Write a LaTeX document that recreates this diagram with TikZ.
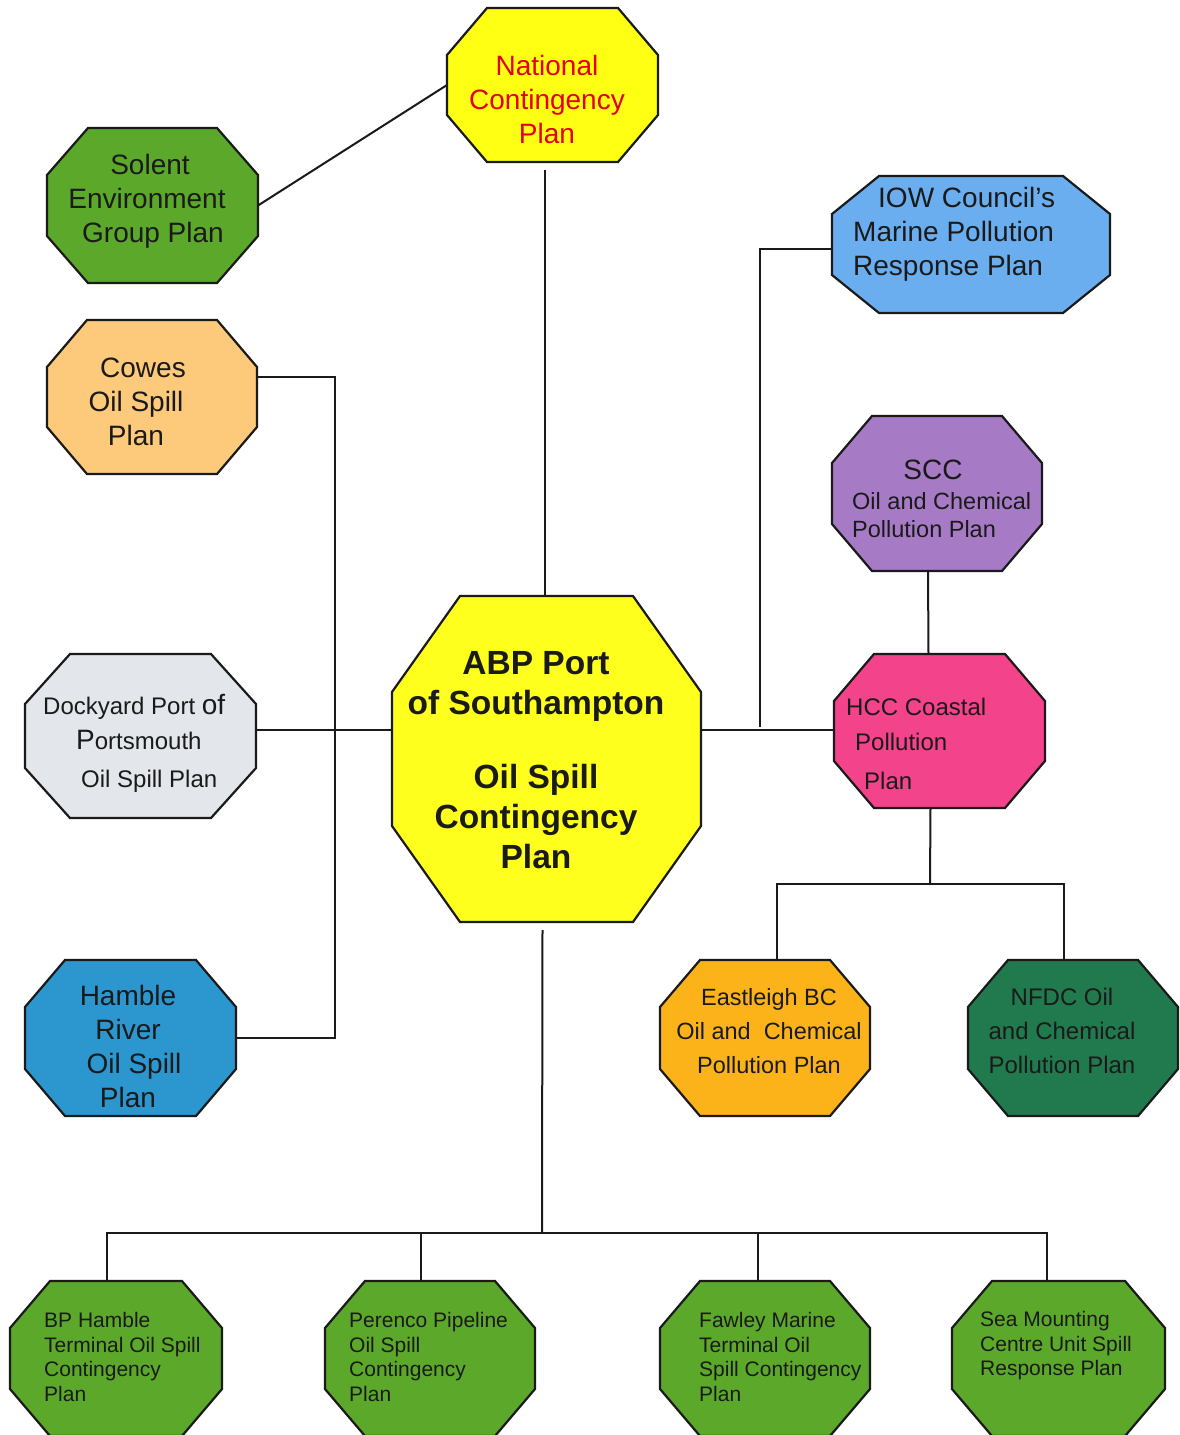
\documentclass[tikz,border=0pt]{standalone}
\usepackage{fontspec}
\setmainfont{Liberation Sans}
\usetikzlibrary{calc}
\pgfdeclarelayer{conn}
\pgfdeclarelayer{shapes}
\pgfsetlayers{conn,shapes,main}
\definecolor{natyel}{HTML}{FFFF14}
\definecolor{abpyel}{HTML}{FFFF1E}
\definecolor{natred}{HTML}{E2001A}
\definecolor{grn}{HTML}{5CA82A}
\definecolor{iowblue}{HTML}{6AAEF0}
\definecolor{cowesor}{HTML}{FDC97B}
\definecolor{sccpur}{HTML}{A77AC6}
\definecolor{dockgr}{HTML}{E3E6EA}
\definecolor{hccpink}{HTML}{F3438B}
\definecolor{hambleb}{HTML}{2C96CF}
\definecolor{eastor}{HTML}{FCB31A}
\definecolor{nfdcg}{HTML}{217A4E}
\definecolor{ink}{HTML}{1A1A1A}
\tikzset{
  frame/.style={rectangle, inner sep=0pt, outer sep=0pt},
  octline/.style={draw=ink, line width=2.2pt, line join=miter},
  conline/.style={draw=ink, line width=2pt},
  txt/.style={inner sep=0pt, text=ink},
  fA/.style={font=\fontsize{28}{34}\selectfont},
  fB/.style={font=\fontsize{24}{34}\selectfont},
  fC/.style={font=\fontsize{21}{24.5}\selectfont},
  fD/.style={font=\bfseries\fontsize{33.5}{40}\selectfont},
}
% #1 name, #2 colour, #3 x1, #4 y1, #5 x2, #6 y2, #7 cut x, #8 cut y
\newcommand\octo[8]{%
  \pgfmathsetmacro\ow{#5-#3}%
  \pgfmathsetmacro\oh{#6-#4}%
  \node[frame, minimum width=\ow pt, minimum height=\oh pt] (#1) at ({(#3+#5)/2},{(#4+#6)/2}) {};
  \begin{pgfonlayer}{shapes}
    \path[octline, fill=#2] ({#3+#7},#4) -- ({#5-#7},#4) -- (#5,{#4+#8}) -- (#5,{#6-#8})
      -- ({#5-#7},#6) -- ({#3+#7},#6) -- (#3,{#6-#8}) -- (#3,{#4+#8}) -- cycle;
  \end{pgfonlayer}
}
\begin{document}
\begin{tikzpicture}[x=1pt, y=-1pt]
\useasboundingbox (0,0) rectangle (1180,1435);
\begin{pgfonlayer}{conn}
  \fill[white] (0,0) rectangle (1180,1435);
\end{pgfonlayer}

% octagons
\octo{national}{natyel}{447}{8}{658}{162}{40}{47}
\octo{solent}{grn}{47}{128}{258}{283}{41}{47}
\octo{iow}{iowblue}{832}{176}{1110}{313}{47}{38}
\octo{cowes}{cowesor}{47}{320}{257}{474}{40}{47}
\octo{scc}{sccpur}{832}{416}{1042}{571}{40}{47}
\octo{dock}{dockgr}{25}{654}{256}{818}{45}{50}
\octo{abp}{abpyel}{392}{596}{701}{922}{68}{96}
\octo{hcc}{hccpink}{834}{654}{1045}{808}{40}{47}
\octo{hamble}{hambleb}{25}{960}{236}{1116}{40}{47}
\octo{east}{eastor}{660}{960}{870}{1116}{40}{47}
\octo{nfdc}{nfdcg}{968}{960}{1178}{1116}{40}{47}
\octo{bp}{grn}{10}{1281}{222}{1436}{40}{47}
\octo{perenco}{grn}{325}{1281}{535}{1436}{40}{47}
\octo{fawley}{grn}{660}{1281}{870}{1436}{40}{47}
\octo{sea}{grn}{952}{1281}{1165}{1436}{40}{47}

% bus coordinates
\coordinate (iowbus) at (760,730);
\coordinate (cowesbus) at (335,377);
\coordinate (hbus) at (930,884);
\coordinate (abpbus) at (542,1233);

% connectors
\begin{pgfonlayer}{conn}
  \draw[conline] ($(abp.north)+(-2,0)$) -- ($(abp.north |- national.south)+(-2,8)$);
  \draw[conline] (solent.east) -- (national.west);
  \draw[conline] ($(cowes.east)+(0,-20)$) -- (cowesbus) |- (hamble.east);
  \draw[conline] ($(dock.east)+(0,-6)$) -- ($(abp.west)+(0,-29)$);
  \draw[conline] ($(abp.east)+(0,-29)$) -- ($(hcc.west)+(0,-1)$);
  \draw[conline] ($(iow.west)+(0,4)$) -| ($(iowbus)+(0,-3)$);
  \draw[conline] ($(scc.south)+(-9,0)$) -- ($(hcc.north)+(-11,0)$);
  \draw[conline] ($(hcc.south)+(-9,0)$) -- (hbus);
  \draw[conline] ($(east.north)+(12,0)$) |- (hbus);
  \draw[conline] ($(nfdc.north)+(-9,0)$) |- (hbus);
  \draw[conline] ($(abp.south)+(-4,8)$) -- (abpbus);
  \draw[conline] ($(bp.north)+(-9,0)$) |- (abpbus);
  \draw[conline] ($(perenco.north)+(-9,0)$) |- (abpbus);
  \draw[conline] ($(fawley.north)+(-7,0)$) |- (abpbus);
  \draw[conline] ($(sea.north)+(-12,0)$) |- (abpbus);
\end{pgfonlayer}

% texts
\node[txt, fA, text=natred, align=center] (national-t) at (547,99) {National\\Contingency\\Plan};
\node[txt, fA, align=center] (solent-t) at (147,201) {\hspace*{6pt}Solent\\Environment\\\hspace*{12pt}Group Plan};
\node[txt, fA, align=left, anchor=west] (iow-t) at (853,234) {\hspace*{25pt}IOW Council's\\Marine Pollution\\Response Plan};
\node[txt, fA, align=center] (cowes-t) at (136,402) {\hspace*{14pt}Cowes\\Oil Spill\\Plan};
\node[txt, font=\fontsize{28}{30}\selectfont] (scc-t1) at (933,470) {SCC};
\node[txt, font=\fontsize{23.5}{28}\selectfont, align=left, anchor=west] (scc-t) at (852,515) {Oil and Chemical\\Pollution Plan};
\node[txt, fB, align=left, anchor=west] (dock-t) at (43,743) {Dockyard Port {\fontsize{28}{34}\selectfont of}\\[1pt]\hspace*{33pt}{\fontsize{28}{34}\selectfont P}ortsmouth\\[4pt]\hspace*{38pt}Oil Spill Plan};
\node[txt, fD, align=center] (abp-t) at (536,760) {ABP Port\\of Southampton\\[34pt]Oil Spill\\Contingency\\Plan};
\node[txt, fB, align=left, anchor=west] (hcc-t) at (846,744) {HCC Coastal\\[1pt]\hspace*{9pt}Pollution\\[5pt]\hspace*{18pt}Plan};
\node[txt, fA, align=center] (hamble-t) at (128,1046) {Hamble\\River\\\hspace*{12pt}Oil Spill\\Plan};
\node[txt, font=\fontsize{23.5}{34}\selectfont, align=center] (east-t) at (769,1031) {Eastleigh BC\\Oil and\ \ Chemical\\Pollution Plan};
\node[txt, fB, align=center] (nfdc-t) at (1062,1031) {NFDC Oil\\and Chemical\\Pollution Plan};
\node[txt, fC, align=left, anchor=west] (bp-t) at (44,1357) {BP Hamble\\Terminal Oil Spill\\Contingency\\Plan};
\node[txt, fC, align=left, anchor=west] (perenco-t) at (349,1357) {Perenco Pipeline\\Oil Spill\\Contingency\\Plan};
\node[txt, fC, align=left, anchor=west] (fawley-t) at (699,1357) {Fawley Marine\\Terminal Oil\\Spill Contingency\\Plan};
\node[txt, fC, align=left, anchor=west] (sea-t) at (980,1346) {Sea Mounting\\Centre Unit Spill\\Response Plan};
\end{tikzpicture}
\end{document}
